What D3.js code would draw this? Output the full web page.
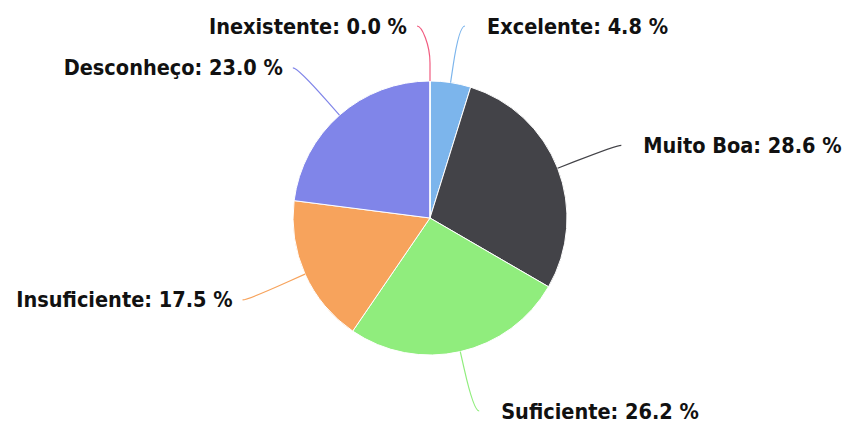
<!DOCTYPE html>
<html>
<head>
<meta charset="utf-8">
<script src="https://cdn.jsdelivr.net/npm/d3@7"></script>
<style>
  body { margin: 0; background: #fff; }
  text { font-family: "DejaVu Sans Condensed", "DejaVu Sans", sans-serif; font-weight: bold; }
</style>
</head>
<body>
<div class="chart"></div>
<script>
const WIDTH = 844
const HEIGHT = 426

// dados
const categorias = ["Excelente", "Muito Boa", "Suficiente", "Insuficiente", "Desconheço", "Inexistente"];
const valores = [4.8, 28.6, 26.2, 17.5, 23.0, 0.0];
const cores = ["#7cb5ec", "#434348", "#90ed7d", "#f7a35c", "#8085e9", "#f15c80"];

const cx = 430, cy = 218, raio = 137;
const raioLabel = 200;

const svg = d3.select("div.chart")
            .append("svg")
            .attr("width", WIDTH)
            .attr("height", HEIGHT);

const dados = categorias.map((c, i) => ({nome: c, valor: valores[i], cor: cores[i]}));

const pie = d3.pie().sort(null).value(d => d.valor);
const arcs = pie(dados);

const arc = d3.arc().innerRadius(0).outerRadius(raio);

const g = svg.append("g").attr("transform", `translate(${cx},${cy})`);

g.selectAll("path.fatia")
    .data(arcs)
    .enter()
    .append("path")
    .attr("class", "fatia")
    .attr("d", arc)
    .style("fill", d => d.data.cor)
    .style("stroke", "#fff")
    .style("stroke-width", 1);

// posições dos rótulos
arcs.forEach(d => {
    const a = (d.startAngle + d.endAngle) / 2;
    d.ux = Math.sin(a);
    d.uy = -Math.cos(a);
    d.esquerda = a > Math.PI;
    let ly = d.uy * raioLabel;
    ly = Math.max(ly, 26 - cy);
    ly = Math.min(ly, 411 - cy);
    d.ey = ly;
    d.ex = d.ux * raioLabel;
    if (d.esquerda && d.ex > -8) d.ex = -8;
});

const linha = d => {
    const sx = d.ux * raio, sy = d.uy * raio;
    const bx = d.ux * (raio + 18), by = d.uy * (raio + 18);
    const c2x = 2 * bx - sx, c2y = 2 * by - sy;
    const off = d.esquerda ? -5 : 5;
    return `M${d.ex + off},${d.ey} C${d.ex},${d.ey} ${c2x},${c2y} ${bx},${by} L${sx},${sy}`;
};

g.selectAll("path.conector")
    .data(arcs)
    .enter()
    .append("path")
    .attr("class", "conector")
    .attr("d", linha)
    .style("fill", "none")
    .style("stroke", d => d.data.cor)
    .style("stroke-width", 1.2);

g.selectAll("text.rotulo")
    .data(arcs)
    .enter()
    .append("text")
    .attr("class", "rotulo")
    .attr("x", d => d.esquerda ? d.ex - 15 : d.ex + 27)
    .attr("y", d => d.ey)
    .attr("dy", "0.35em")
    .attr("text-anchor", d => d.esquerda ? "end" : "start")
    .style("font-size", "21.5px")
    .style("fill", "#111")
    .style("stroke", "#fff")
    .style("stroke-width", 2)
    .style("paint-order", "stroke")
    .text(d => `${d.data.nome}: ${d.data.valor.toFixed(1)} %`);
</script>
</body>
</html>
